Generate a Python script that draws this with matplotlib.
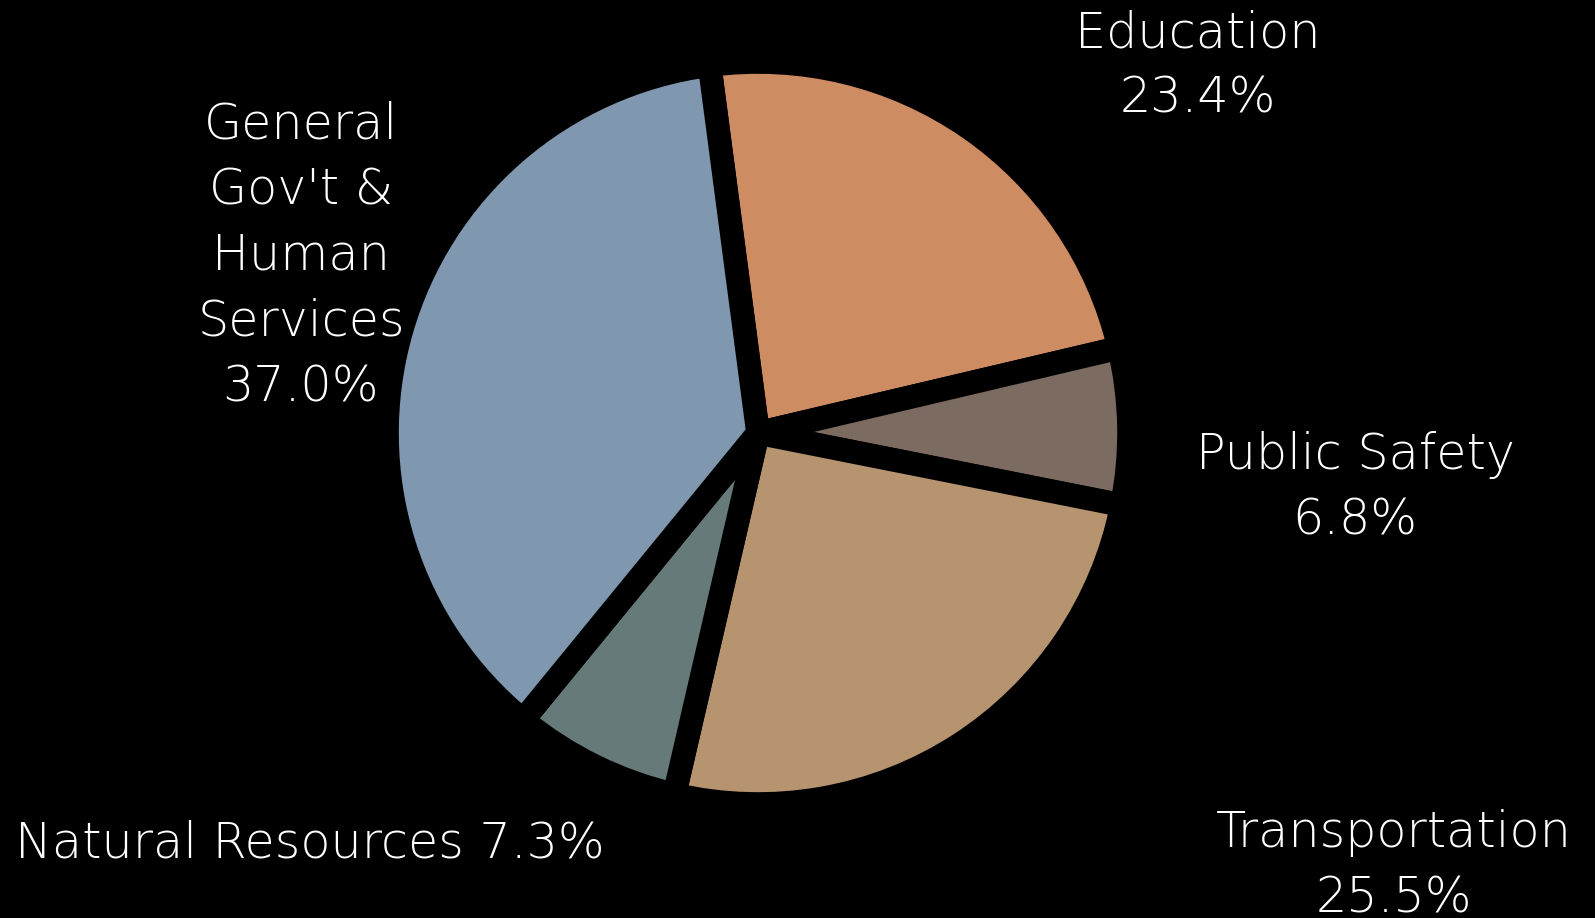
import matplotlib
matplotlib.use("Agg")
import matplotlib.pyplot as plt

categories = ["Education", "Public Safety", "Transportation", "Natural Resources",
              "General Gov't & Human Services"]
shares = [23.4, 6.8, 25.5, 7.3, 37.0]
colors = ["#CD8C61", "#7B6B60", "#B5946F", "#677A7A", "#8098AF"]

W, H = 1595, 918
fig = plt.figure(figsize=(W / 100, H / 100), dpi=100, facecolor="black")
ax = fig.add_axes([0, 0, 1, 1])
ax.set_facecolor("black")

cx, cy = 758, 433
# y axis runs downward, so a counterclockwise sweep in data space reads clockwise
wedges, _ = ax.pie(shares, colors=colors, startangle=-97.5, counterclock=True,
                   center=(cx, cy), radius=371, frame=True,
                   wedgeprops=dict(edgecolor="black", linewidth=17, joinstyle="round"))
ax.set_xlim(0, W)
ax.set_ylim(H, 0)
ax.set_aspect("equal")
ax.axis("off")

font = dict(family=["DejaVu Sans"], weight="light", size=35.5, color="white",
            ha="center", va="center", linespacing=1.47)
ax.text(1198, 66, f"Education\n{shares[0]:.1f}%", **font)
ax.text(1355, 488, f"Public Safety\n{shares[1]:.1f}%", **font)
ax.text(1394, 866, f"Transportation\n{shares[2]:.1f}%", **font)
ax.text(310, 843, f"Natural Resources {shares[3]:.1f}%", **font)
ax.text(301, 256, f"General\nGov't &\nHuman\nServices\n{shares[4]:.1f}%", **font)

fig.savefig("out.png", dpi=100, facecolor="black")
